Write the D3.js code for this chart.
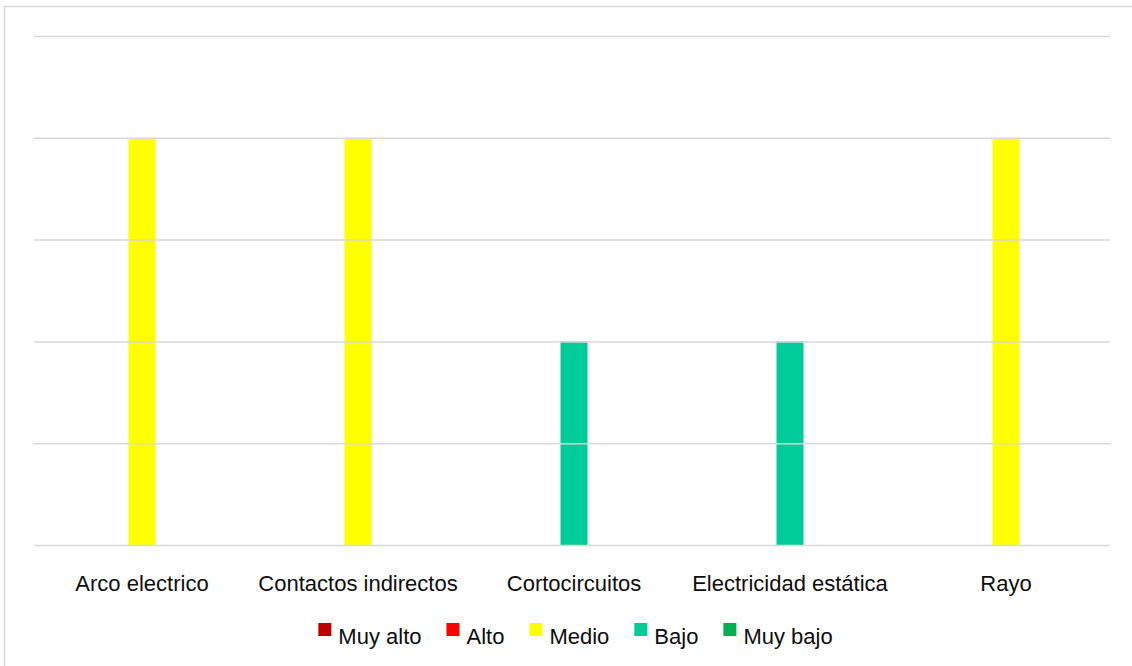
<!DOCTYPE html>
<html>
<head>
<meta charset="utf-8">
<script src="https://cdn.jsdelivr.net/npm/d3@7"></script>
<style>
  html, body { margin: 0; padding: 0; background: #fff; }
  svg { display: block; font-family: "Liberation Sans", Arial, sans-serif; }
</style>
</head>
<body>
<svg id="chart" width="1132" height="666"></svg>
<script>
// Risk level per electrical hazard
const categories = ["Arco electrico", "Contactos indirectos", "Cortocircuitos", "Electricidad estática", "Rayo"];
const values = [4, 4, 2, 2, 4];
const levels = ["Medio", "Medio", "Bajo", "Bajo", "Medio"];

const legendLabels = ["Muy alto", "Alto", "Medio", "Bajo", "Muy bajo"];
const legendColors = ["#c00000", "#ff0000", "#ffff00", "#00cc99", "#00b050"];
const yTicks = [0, 1, 2, 3, 4, 5];

const svg = d3.select("#chart");
const FONT = 22;

// chart frame
svg.append("rect")
  .attr("x", 4.5).attr("y", 6.5)
  .attr("width", 1140).attr("height", 680)
  .attr("fill", "#fff").attr("stroke", "#d9d9d9").attr("stroke-width", 1.5);

const x = d3.scaleBand().domain(categories).range([34, 1114]);
const y = d3.scaleLinear().domain([0, 5]).range([545, 36]);
const color = d3.scaleOrdinal().domain(legendLabels).range(legendColors);

// bars
const barW = 27;
svg.append("g").selectAll("rect")
  .data(categories)
  .join("rect")
  .attr("x", (d) => x(d) + x.bandwidth() / 2 - barW / 2)
  .attr("y", (d, i) => y(values[i]))
  .attr("width", barW)
  .attr("height", (d, i) => y(0) - y(values[i]))
  .attr("fill", (d, i) => color(levels[i]));

// horizontal gridlines (value axis without labels)
const yAxis = d3.axisLeft(y).tickValues(yTicks).tickSize(-(1110 - 34)).tickFormat("");
const gy = svg.append("g").attr("transform", "translate(34,0)").call(yAxis);
gy.select(".domain").remove();
gy.selectAll(".tick line").attr("stroke", "#d9d9d9").attr("stroke-width", 1.5);

// category axis labels
const xAxis = d3.axisBottom(x).tickSize(0).tickPadding(0);
const gx = svg.append("g").attr("transform", "translate(0,545)").call(xAxis);
gx.select(".domain").remove();
gx.selectAll(".tick text")
  .attr("y", 46).attr("dy", null)
  .attr("font-size", FONT)
  .attr("font-family", "\"Liberation Sans\", Arial, sans-serif")
  .attr("fill", "#0d0d0d");

// legend
const legend = svg.append("g");
const items = legend.selectAll("g").data(legendLabels).join("g");
items.append("rect")
  .attr("width", 13).attr("height", 13)
  .attr("y", 623)
  .attr("fill", (d) => color(d));
items.append("text")
  .attr("x", 20).attr("y", 644)
  .attr("font-size", FONT)
  .attr("fill", "#0d0d0d")
  .text((d) => d);

let cx = 0;
const offsets = [];
items.each(function () {
  offsets.push(cx);
  const w = this.querySelector("text").getComputedTextLength();
  cx += 20 + w + 25;
});
const total = cx - 25;
const startX = 575.5 - total / 2;
items.attr("transform", (d, i) => `translate(${startX + offsets[i]},0)`);
</script>
</body>
</html>
